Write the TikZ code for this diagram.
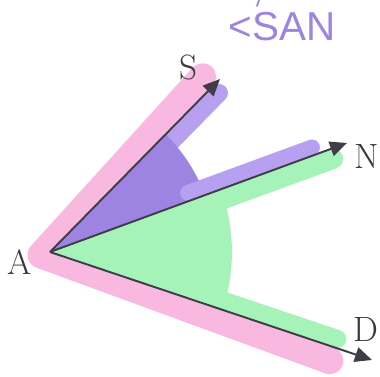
\documentclass[tikz,border=0pt]{standalone}
\usepackage{fontspec}
\usepackage{tikz}
\usetikzlibrary{arrows.meta, calc, positioning}
\newfontfamily\handfont{Liberation Sans}
\definecolor{rosa}{HTML}{F9B8E0}
\definecolor{lila}{HTML}{B7A0F0}
\definecolor{liladunkel}{HTML}{9D84E2}
\definecolor{gruen}{HTML}{A6F3BA}
\definecolor{dunkel}{HTML}{3E3E48}

\begin{document}
\begin{tikzpicture}[x=0.02cm, y=0.02cm,
        pfeil/.style={-{Triangle[length=3.4mm, width=3mm]}, line width=1.1pt, dunkel},
        band/.style={line cap=round, line join=round},
        lbl/.style={font=\fontsize{20}{20}\selectfont\color{dunkel!90!black}}
      ]
      \useasboundingbox (0,0) rectangle (380,377);

      % Punkte (Pixel, y nach oben)
      \coordinate (pA) at (50,125);
      \coordinate (pS) at (220,298);
      \coordinate (pN) at (347,234);
      \coordinate (pD) at (372,17);

      % Markierungen
      \draw[band, rosa, line width=0.54cm] (202.6,300.2) -- (41,122) -- (329.9,16.3);
      \draw[band, lila, line width=0.36cm] (73.9,136.5) -- (219,284.1);
      \fill[liladunkel] (pA) -- ++(20.2:3.3cm) arc[start angle=20.2, end angle=45.5, radius=3.3cm] -- cycle;
      \draw[band, lila, line width=0.32cm] (188.1,184.1) -- (312,229.5);
      \fill[gruen] (pA) -- ++(-18.5:3.64cm) arc[start angle=-18.5, end angle=20.2, radius=3.64cm] -- cycle;
      \draw[band, gruen, line width=0.4cm] (91,129.4) -- (333.2,218.1);
      \draw[band, gruen, line width=0.36cm] (90.8,120.8) -- (337.3,38.1);

      % Strahlen
      \foreach \z in {pS, pN, pD} {
        \draw[pfeil] (pA) -- (\z);
      }

      % Beschriftung
      \node[lbl] (tA) at (20,115) {A};
      \node[lbl] (tS) at (188,309) {S};
      \node[lbl] (tN) at (367,220) {N};
      \node[lbl] (tD) at (366,47)  {D};
      \node[font=\handfont\fontsize{23}{23}\selectfont, text=liladunkel] (tSAN) at (282,350) {<SAN};
      \draw[liladunkel, line width=1pt, line cap=round] (259,377) -- (257,371);
    \end{tikzpicture}
\end{document}
